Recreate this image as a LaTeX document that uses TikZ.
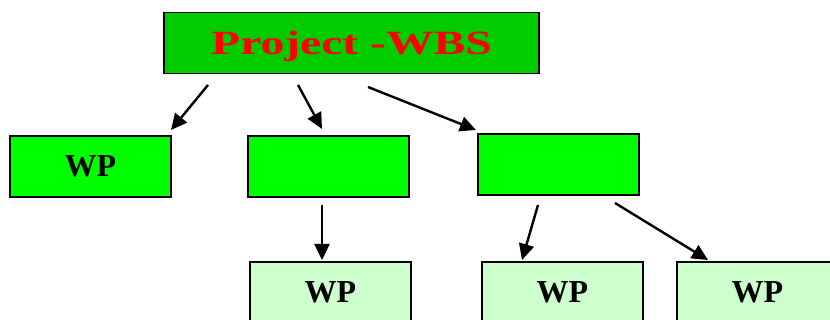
\documentclass[tikz,border=0pt]{standalone}
\usepackage{fontspec}
\setmainfont{Liberation Serif}
\usetikzlibrary{arrows.meta}
\definecolor{topgreen}{HTML}{00CC00}
\definecolor{midgreen}{HTML}{00FF00}
\definecolor{lightgreen}{HTML}{CCFFCC}
\tikzset{
  box/.style={draw=black, line width=1.3pt, minimum width=161pt, minimum height=61pt, inner sep=0pt, font=\fontsize{32}{32}\selectfont\bfseries},
  lvl1/.style={box, fill=midgreen},
  lvl2/.style={box, fill=lightgreen},
  arr/.style={line width=2.4pt, -{Triangle[length=16pt,width=15pt]}}
}
\begin{document}
\begin{tikzpicture}[x=1pt,y=-1pt]
\clip (0,0) rectangle (830,320);
\fill[white] (0,0) rectangle (830,320);
\node[draw=black, line width=1.3pt, fill=topgreen, minimum width=375pt, minimum height=61pt, inner sep=0pt] (top) at (351.5,43) {};
\node[text=red, font=\fontsize{34}{34}\selectfont\bfseries, inner sep=0pt, anchor=base] (title) at (351.5,55) {\scalebox{1.4}[1]{Project -WBS}};
\node[lvl1] (wp1) at (90.5,166.5) {WP};
\node[lvl1] (mid) at (328.5,166.5) {};
\node[lvl1] (right) at (558.5,164.5) {};
\node[lvl2] (wp2) at (330.5,292.5) {WP};
\node[lvl2] (wp3) at (562.5,292.5) {WP};
\node[lvl2] (wp4) at (757.5,292.5) {WP};
\coordinate (a1s) at (208,85); \coordinate (a1e) at (171,130);
\coordinate (a2s) at (298,85); \coordinate (a2e) at (322,129);
\coordinate (a3s) at (368,87); \coordinate (a3e) at (476,130);
\coordinate (a4s) at (322,205); \coordinate (a4e) at (322,260);
\coordinate (a5s) at (538,205); \coordinate (a5e) at (522,260);
\coordinate (a6s) at (615,203); \coordinate (a6e) at (708,260);
\draw[arr] (a1s) -- (a1e);
\draw[arr] (a2s) -- (a2e);
\draw[arr] (a3s) -- (a3e);
\draw[arr] (a4s) -- (a4e);
\draw[arr] (a5s) -- (a5e);
\draw[arr] (a6s) -- (a6e);
\end{tikzpicture}
\end{document}
